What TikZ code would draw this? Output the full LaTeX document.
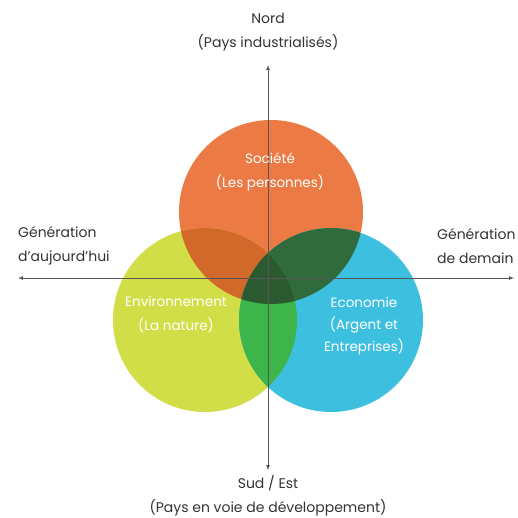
\documentclass[tikz,border=0pt]{standalone}
\usepackage{fontspec}
\setmainfont{Poppins}
\usepackage{tikz}
\usetikzlibrary{arrows}
\definecolor{societe}{HTML}{EC7A45}
\definecolor{environ}{HTML}{D2DE47}
\definecolor{economie}{HTML}{3DC0E0}
\definecolor{socenv}{HTML}{D2692A}
\definecolor{soceco}{HTML}{2F6B3D}
\definecolor{enveco}{HTML}{3DB54A}
\definecolor{centre}{HTML}{2B5A30}
\definecolor{axe}{HTML}{555555}
\tikzstyle{axis} = [axe, line width=0.7pt, >=latex]
\tikzstyle{outer} = [text=black!80, font=\fontsize{14}{24}\selectfont, align=center]
\tikzstyle{inner} = [text=white, font=\fontsize{13.5}{24}\selectfont, align=center]

\begin{document}
\begin{tikzpicture}[x=1pt, y=-1pt]
\useasboundingbox (0,0) rectangle (518,517);
\def\circleS{(271,212) circle (92)}
\def\circleV{(205,320) circle (92)}
\def\circleE{(331,320) circle (92)}
\fill[societe] \circleS;
\fill[environ] \circleV;
\fill[economie] \circleE;
\begin{scope}
  \clip \circleS;
  \fill[socenv] \circleV;
  \fill[soceco] \circleE;
\end{scope}
\begin{scope}
  \clip \circleV;
  \fill[enveco] \circleE;
  \clip \circleE;
  \fill[centre] \circleS;
\end{scope}
% axes
\coordinate (nord) at (268,65);
\coordinate (sud) at (268,470);
\coordinate (ouest) at (18,278);
\coordinate (est) at (514,278);
\draw[axis,<->] (sud) -- (nord);
\draw[axis,<->] (ouest) -- (est);
% labels
\node[outer] (n) at (268,32) {Nord\\(Pays industrialisés)};
\node[outer] (s) at (268,496) {Sud / Est\\(Pays en voie de développement)};
\node[outer, anchor=west, align=left, inner sep=0pt] (g1) at (18,246) {Génération\\d’aujourd’hui};
\node[outer, anchor=west, align=left, inner sep=0pt] (g2) at (437,246) {Génération\\de demain};
\node[inner] (soc) at (270,172) {Société\\(Les personnes)};
\node[inner] (env) at (176,315) {Environnement\\(La nature)};
\node[inner, font=\fontsize{13.5}{22}\selectfont] (eco) at (364,326) {Economie\\(Argent et\\Entreprises)};
\end{tikzpicture}
\end{document}
